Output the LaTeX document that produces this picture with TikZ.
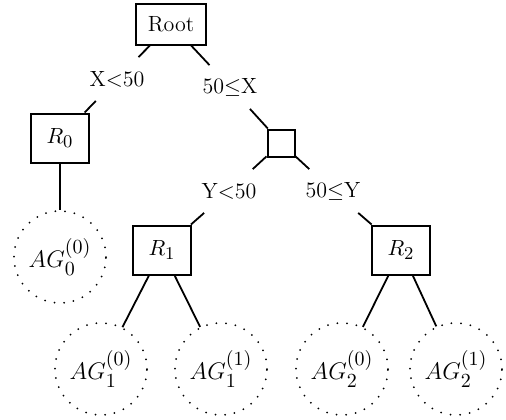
\documentclass[tikz,border=0pt]{standalone}
\DeclareMathSizes{11}{11}{9}{7}
\DeclareMathSizes{12}{12}{10}{8}
\begin{document}
\begin{tikzpicture}[x=0.5pt,y=-0.5pt,
    every node/.style={font=\fontsize{11}{13}\selectfont},
    box/.style={draw,line width=1pt,inner sep=0pt},
    leaf/.style={circle,draw,line width=1pt,dash pattern=on 0pt off 4.8pt,
      line cap=round,minimum size=46pt,inner sep=0pt,
      font=\fontsize{12}{14}\selectfont},
    cond/.style={inner xsep=1pt,inner ysep=0pt,minimum height=21.5pt},
    edge/.style={line width=0.9pt}]
  \useasboundingbox (0,0) rectangle (506,419);

  \node[box,minimum width=35pt,minimum height=20.5pt] (root) at (171,24) {Root};

  \node[cond] (xlo) at (117,79) {X$<$50};
  \node[cond] (xhi) at (230,87) {50$\leq$X};

  \node[box,minimum width=29pt,minimum height=24.5pt] (r0) at (60,138) {$R_0$};
  \node[box,minimum size=13.5pt] (split) at (281,143) {};

  \node[cond] (ylo) at (229,191) {Y$<$50};
  \node[cond] (yhi) at (333,191) {50$\leq$Y};

  \node[box,minimum width=29pt,minimum height=24.5pt] (r1) at (162,250) {$R_1$};
  \node[box,minimum width=29pt,minimum height=24.5pt] (r2) at (401,250) {$R_2$};

  \node[leaf] (ag0) at (60,257) {$AG_0^{(0)}$};
  \node[leaf] (ag10) at (101,369) {$AG_1^{(0)}$};
  \node[leaf] (ag11) at (221,369) {$AG_1^{(1)}$};
  \node[leaf] (ag20) at (342,369) {$AG_2^{(0)}$};
  \node[leaf] (ag21) at (456,369) {$AG_2^{(1)}$};

  \draw[edge] (root) -- (xlo) -- (r0);
  \draw[edge] (root) -- (xhi) -- (split);
  \draw[edge] (split) -- (ylo) -- (r1);
  \draw[edge] (split) -- (yhi) -- (r2);
  \draw[edge] (r0) -- (ag0);
  \draw[edge] (r1) -- (ag10);
  \draw[edge] (r1) -- (ag11);
  \draw[edge] (r2) -- (ag20);
  \draw[edge] (r2) -- (ag21);
\end{tikzpicture}
\end{document}
